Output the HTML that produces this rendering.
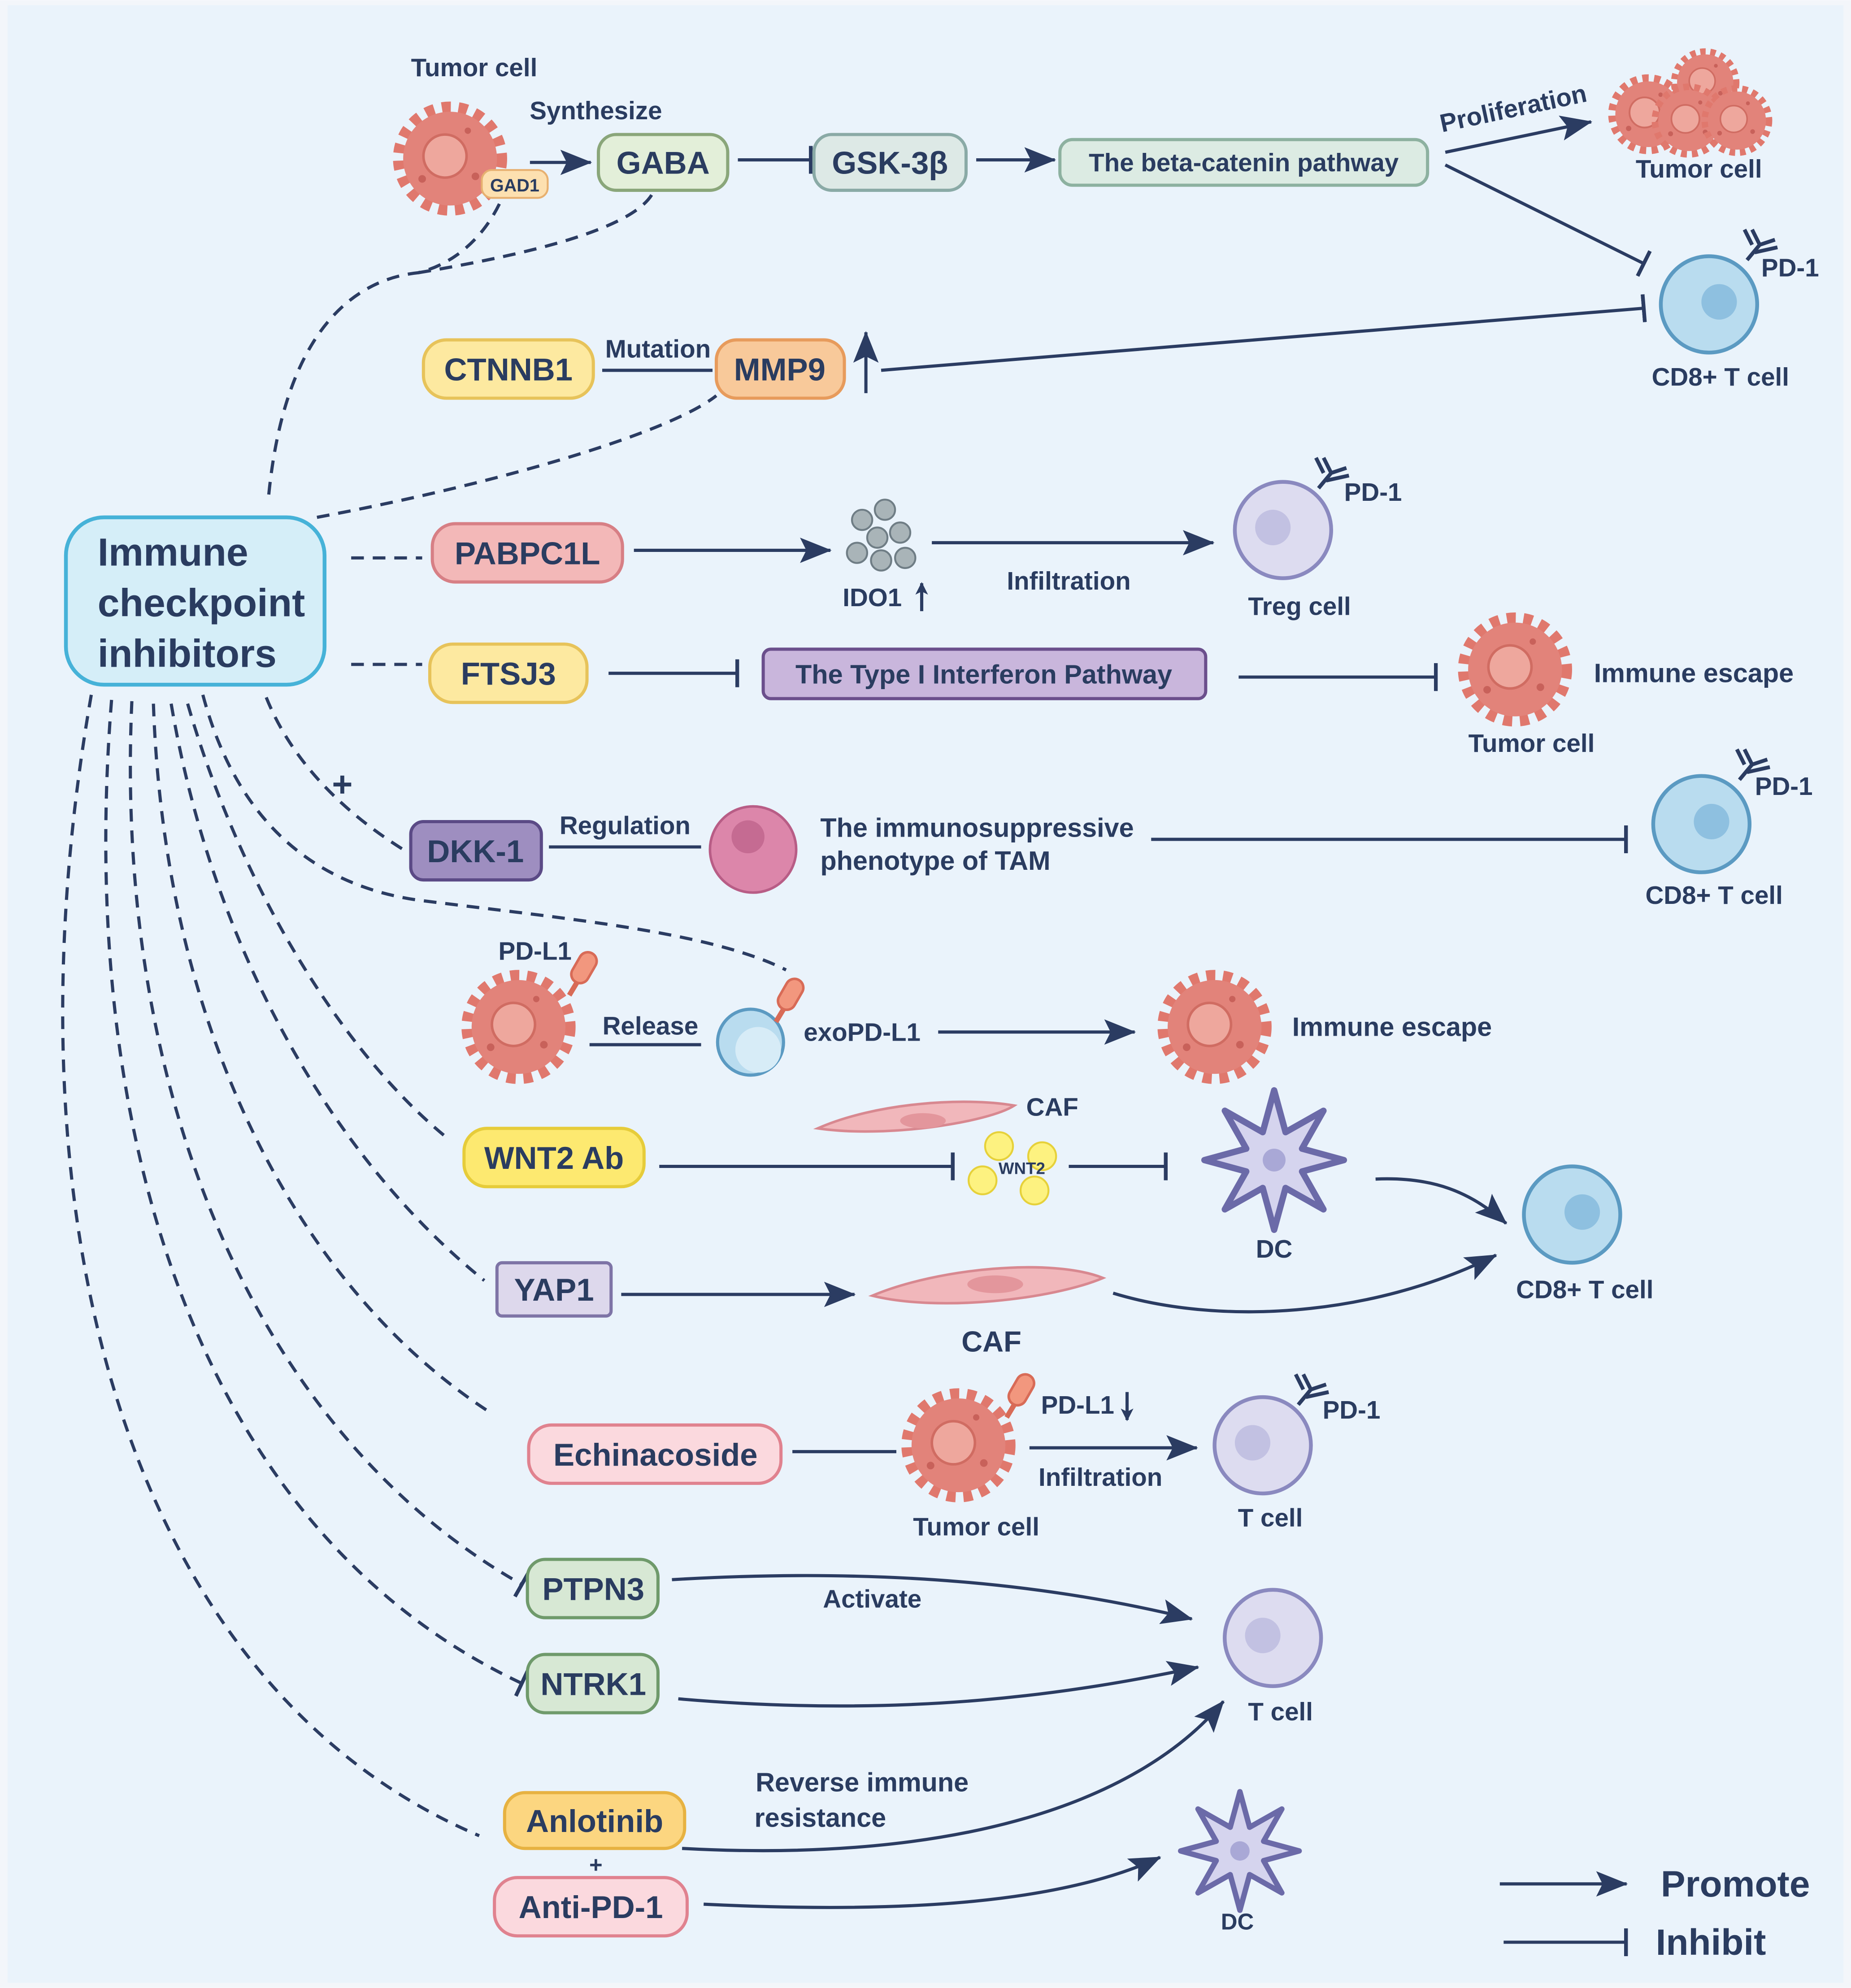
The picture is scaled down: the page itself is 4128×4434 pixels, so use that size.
<!DOCTYPE html>
<html><head><meta charset="utf-8"><style>
html,body{margin:0;padding:0;background:#fff}
svg{display:block}
text{font-family:"Liberation Sans",sans-serif;font-weight:bold;fill:#2a3c60}
</style></head><body>
<svg width="4128" height="4434" viewBox="0 0 1460 1568" xmlns="http://www.w3.org/2000/svg">
<defs>
<marker id="ar" markerWidth="10" markerHeight="10" refX="9" refY="5" orient="auto" markerUnits="userSpaceOnUse" viewBox="0 0 10 10"><path d="M0,0 L10,5 L0,10 L2.5,5z" fill="#2b3c62"/></marker>
<marker id="arB" markerWidth="26" markerHeight="20" refX="24" refY="10" orient="auto" markerUnits="userSpaceOnUse"><path d="M0,0 L25,10 L0,20 L5,10z" fill="#2b3c62"/></marker>
<marker id="bar" markerWidth="4" markerHeight="22" refX="2" refY="11" orient="auto" markerUnits="userSpaceOnUse"><rect x="0" y="0" width="3" height="22" fill="#2b3c62"/></marker>
<g id="tum"><circle r="40" fill="none" stroke="#e0786d" stroke-width="10" stroke-dasharray="7 6"/><circle r="37" fill="#e2837a"/><circle r="17" cx="-4" cy="-2" fill="#eea79d" stroke="#d06c62" stroke-width="2"/><circle r="3" cx="20" cy="14" fill="#c8615a"/><circle r="3" cx="-22" cy="16" fill="#c8615a"/><circle r="2.5" cx="14" cy="-22" fill="#c8615a"/></g>
<g id="cd8"><circle r="38" fill="#b9dcef" stroke="#5b9ac2" stroke-width="3"/><circle r="14" cx="8" cy="-2" fill="#8ec0e0"/></g>
<g id="tcl"><circle r="38" fill="#dddcf0" stroke="#8a89bf" stroke-width="3"/><circle r="14" cx="-8" cy="-2" fill="#c2c1e2"/></g>
<g id="ab"><path d="M0,0 L10,-12 M10,-12 L4,-24 M10,-12 L22,-16 M4,-12 L-2,-24 M6,-6 L24,-10" stroke="#2b3c62" stroke-width="3" fill="none"/></g>
<g id="dc"><polygon points="55,0 22,9 38.9,38.9 9,22 0,55 -9,22 -38.9,38.9 -22,9 -55,0 -22,-9 -38.9,-38.9 -9,-22 0,-55 9,-22 38.9,-38.9 22,-9" fill="#d5d4ee" stroke="#6b6aa8" stroke-width="5" stroke-linejoin="round"/><circle r="9" fill="#a9a8d6"/></g>
<g id="rec"><path d="M0,0 l-6,10" stroke="#d86b57" stroke-width="4"/><rect x="-8" y="-26" width="14" height="26" rx="7" fill="#f2977e" stroke="#d86b57" stroke-width="2" transform="rotate(30)"/></g>
</defs>
<rect x="0" y="0" width="1460" height="1568" fill="#f3f6fa"/>
<rect x="6" y="4" width="1448" height="1560" fill="#eaf3fb"/>

<g fill="none" stroke="#2b3c62" stroke-width="2.5">
<g stroke-dasharray="10 7">
<path d="M212,390 C225,260 280,220 330,215 C370,205 395,170 403,135"/>
<path d="M330,215 C420,200 500,180 515,152"/>
<path d="M250,408 C400,380 530,340 565,312"/>
<line x1="277" y1="440" x2="333" y2="440"/>
<line x1="277" y1="524" x2="333" y2="524"/>
<path d="M210,550 C230,600 270,640 318,670"/>
<path d="M160,548 C190,660 260,700 330,710 C450,725 560,735 620,765"/>
<path d="M148,555 C190,700 270,830 352,897"/>
<path d="M135,555 C170,760 270,920 382,1010"/>
<path d="M121,555 C130,820 240,1020 388,1115"/>
<path d="M104,553 C90,860 200,1130 412,1250" marker-end="url(#bar)"/>
<path d="M88,552 C60,900 160,1210 412,1328" marker-end="url(#bar)"/>
<path d="M72,548 C0,960 100,1330 378,1448"/>
</g>
<line x1="418" y1="128" x2="466" y2="128" marker-end="url(#arB)"/>
<line x1="582" y1="126" x2="640" y2="126" marker-end="url(#bar)"/>
<line x1="770" y1="126" x2="832" y2="126" marker-end="url(#arB)"/>
<line x1="1140" y1="120" x2="1255" y2="96" marker-end="url(#arB)"/>
<line x1="1140" y1="130" x2="1297" y2="208" marker-end="url(#bar)"/>
<line x1="475" y1="292" x2="562" y2="292"/>
<line x1="683" y1="310" x2="683" y2="262" marker-end="url(#arB)"/>
<line x1="695" y1="292" x2="1297" y2="243" marker-end="url(#bar)"/>
<line x1="500" y1="434" x2="655" y2="434" marker-end="url(#arB)"/>
<line x1="727" y1="482" x2="727" y2="460" marker-end="url(#ar)"/>
<line x1="735" y1="428" x2="957" y2="428" marker-end="url(#arB)"/>
<line x1="480" y1="531" x2="582" y2="531" marker-end="url(#bar)"/>
<line x1="977" y1="534" x2="1133" y2="534" marker-end="url(#bar)"/>
<line x1="433" y1="668" x2="553" y2="668"/>
<line x1="908" y1="662" x2="1283" y2="662" marker-end="url(#bar)"/>
<line x1="465" y1="824" x2="553" y2="824"/>
<line x1="740" y1="814" x2="895" y2="814" marker-end="url(#arB)"/>
<line x1="520" y1="920" x2="752" y2="920" marker-end="url(#bar)"/>
<line x1="843" y1="920" x2="920" y2="920" marker-end="url(#bar)"/>
<path d="M1085,930 C1130,928 1160,940 1188,965" marker-end="url(#arB)"/>
<line x1="490" y1="1021" x2="674" y2="1021" marker-end="url(#arB)"/>
<path d="M878,1020 C960,1045 1080,1040 1180,990" marker-end="url(#arB)"/>
<line x1="625" y1="1145" x2="707" y2="1145"/>
<line x1="889" y1="1098" x2="889" y2="1120" marker-end="url(#ar)"/>
<line x1="812" y1="1142" x2="944" y2="1142" marker-end="url(#arB)"/>
<path d="M530,1246 C700,1236 830,1250 940,1277" marker-end="url(#arB)"/>
<path d="M535,1340 C720,1356 850,1335 945,1315" marker-end="url(#arB)"/>
<path d="M538,1458 C760,1470 900,1420 965,1342" marker-end="url(#arB)"/>
<path d="M555,1502 C720,1510 840,1500 915,1465" marker-end="url(#arB)"/>
<line x1="1183" y1="1486" x2="1283" y2="1486" marker-end="url(#arB)"/>
<line x1="1186" y1="1532" x2="1283" y2="1532" marker-end="url(#bar)"/>
</g>

<g stroke-width="2.5">
<rect x="472" y="106" width="102" height="44" rx="14" fill="#e3efd9" stroke="#8aa67a"/>
<rect x="642" y="106" width="120" height="44" rx="14" fill="#dde9e6" stroke="#8aaaa6"/>
<rect x="836" y="110" width="290" height="36" rx="10" fill="#dcebe3" stroke="#8db1a0"/>
<rect x="334" y="268" width="134" height="46" rx="18" fill="#fde9a0" stroke="#e7c35a"/>
<rect x="565" y="268" width="101" height="46" rx="16" fill="#f8c99a" stroke="#e79b5c"/>
<rect x="52" y="408" width="204" height="132" rx="30" fill="#d5eef8" stroke="#46b2d8" stroke-width="3"/>
<rect x="341" y="413" width="150" height="46" rx="18" fill="#f3b8b8" stroke="#d77f85"/>
<rect x="339" y="508" width="124" height="46" rx="18" fill="#fde9a0" stroke="#e7c35a"/>
<rect x="602" y="512" width="349" height="39" rx="6" fill="#c9b6dc" stroke="#6b4f8c"/>
<rect x="324" y="648" width="103" height="46" rx="10" fill="#9e8ec0" stroke="#5b4a86"/>
<rect x="366" y="890" width="142" height="46" rx="18" fill="#fde970" stroke="#e6cc3a"/>
<rect x="392" y="996" width="90" height="42" rx="4" fill="#ddd8ec" stroke="#7e74a6"/>
<rect x="417" y="1124" width="199" height="46" rx="18" fill="#fbd9de" stroke="#e0828f"/>
<rect x="416" y="1230" width="103" height="46" rx="14" fill="#d7e8d4" stroke="#6f9a6b"/>
<rect x="416" y="1305" width="103" height="46" rx="14" fill="#d7e8d4" stroke="#6f9a6b"/>
<rect x="398" y="1414" width="142" height="44" rx="16" fill="#fcd680" stroke="#e7b241"/>
<rect x="390" y="1481" width="152" height="46" rx="18" fill="#fbd9de" stroke="#e0828f"/>
</g>

<use href="#tum" x="355" y="125"/>
<rect x="380" y="134" width="52" height="22" rx="8" fill="#fde0b0" stroke="#e7b070" stroke-width="1.5"/>
<use href="#tum" transform="translate(1300,90) scale(0.7)"/>
<use href="#tum" transform="translate(1345,65) scale(0.6)"/>
<use href="#tum" transform="translate(1332,95) scale(0.65)"/>
<use href="#tum" transform="translate(1370,95) scale(0.62)"/>
<use href="#cd8" x="1348" y="240"/><use href="#ab" x="1378" y="205"/>
<g fill="#a9b4b8" stroke="#6f7d85" stroke-width="1.5"><circle cx="680" cy="410" r="8"/><circle cx="698" cy="402" r="8"/><circle cx="710" cy="420" r="8"/><circle cx="692" cy="424" r="8"/><circle cx="676" cy="436" r="8"/><circle cx="695" cy="442" r="8"/><circle cx="714" cy="440" r="8"/></g>
<use href="#tcl" x="1012" y="418"/><use href="#ab" x="1040" y="385"/>
<use href="#tum" x="1195" y="528"/>
<circle cx="594" cy="670" r="34" fill="#dc86aa" stroke="#b85d86" stroke-width="2"/><circle cx="590" cy="660" r="13" fill="#c56b92"/>
<use href="#cd8" x="1342" y="650"/><use href="#ab" x="1372" y="615"/>
<use href="#tum" x="409" y="810"/><use href="#rec" x="455" y="775"/>
<circle cx="592" cy="822" r="26" fill="#b9dcef" stroke="#5b9ac2" stroke-width="2.5"/><circle cx="598" cy="828" r="18" fill="#d7ecf7"/>
<use href="#rec" x="618" y="796"/>
<use href="#tum" x="958" y="810"/>
<path d="M645,890 C690,870 760,865 800,872 C780,885 700,898 645,890z" fill="#f1b7bb" stroke="#d88890" stroke-width="2"/><ellipse cx="728" cy="884" rx="18" ry="6" fill="#e3969c"/>
<g fill="#fdf280" stroke="#e6d13a" stroke-width="1.5"><circle cx="788" cy="904" r="11"/><circle cx="822" cy="912" r="11"/><circle cx="775" cy="931" r="11"/><circle cx="816" cy="939" r="11"/></g>
<use href="#dc" x="1005" y="915"/>
<use href="#cd8" x="1240" y="958"/>
<path d="M688,1022 C740,1000 830,992 870,1008 C830,1025 740,1035 688,1022z" fill="#f1b7bb" stroke="#d88890" stroke-width="2"/><ellipse cx="785" cy="1013" rx="22" ry="7" fill="#e3969c"/>
<use href="#tum" x="756" y="1140"/><use href="#rec" x="800" y="1108"/>
<use href="#tcl" x="996" y="1140"/><use href="#ab" x="1024" y="1108"/>
<use href="#tcl" x="1004" y="1292"/>
<use href="#dc" transform="translate(978,1460) scale(0.85)"/>

<g font-size="20">
<text x="374" y="60" text-anchor="middle">Tumor cell</text>
<text x="470" y="94" text-anchor="middle">Synthesize</text>
<text x="406" y="151" text-anchor="middle" font-size="14">GAD1</text>
<text x="1340" y="140" text-anchor="middle">Tumor cell</text>
<text x="1195" y="92" text-anchor="middle" transform="rotate(-12 1195 92)">Proliferation</text>
<text x="1412" y="218" text-anchor="middle">PD-1</text>
<text x="1357" y="304" text-anchor="middle">CD8+ T cell</text>
<text x="519" y="282" text-anchor="middle">Mutation</text>
<text x="1083" y="395" text-anchor="middle">PD-1</text>
<text x="688" y="478" text-anchor="middle">IDO1</text>
<text x="843" y="465" text-anchor="middle">Infiltration</text>
<text x="1025" y="485" text-anchor="middle">Treg cell</text>
<text x="1336" y="538" text-anchor="middle" font-size="21">Immune escape</text>
<text x="1208" y="593" text-anchor="middle">Tumor cell</text>
<text x="493" y="658" text-anchor="middle">Regulation</text>
<text x="647" y="660" font-size="21">The immunosuppressive</text>
<text x="647" y="686" font-size="21">phenotype of TAM</text>
<text x="1407" y="627" text-anchor="middle">PD-1</text>
<text x="1352" y="713" text-anchor="middle">CD8+ T cell</text>
<text x="422" y="757" text-anchor="middle">PD-L1</text>
<text x="513" y="816" text-anchor="middle">Release</text>
<text x="680" y="821" text-anchor="middle">exoPD-L1</text>
<text x="1098" y="817" text-anchor="middle" font-size="21">Immune escape</text>
<text x="830" y="880" text-anchor="middle">CAF</text>
<text x="806" y="926" text-anchor="middle" font-size="13">WNT2</text>
<text x="1005" y="992" text-anchor="middle">DC</text>
<text x="1250" y="1024" text-anchor="middle">CD8+ T cell</text>
<text x="782" y="1066" text-anchor="middle" font-size="23">CAF</text>
<text x="850" y="1115" text-anchor="middle">PD-L1</text>
<text x="868" y="1172" text-anchor="middle">Infiltration</text>
<text x="1066" y="1119" text-anchor="middle">PD-1</text>
<text x="1002" y="1204" text-anchor="middle">T cell</text>
<text x="770" y="1211" text-anchor="middle">Tumor cell</text>
<text x="688" y="1268" text-anchor="middle">Activate</text>
<text x="1010" y="1357" text-anchor="middle">T cell</text>
<text x="680" y="1413" text-anchor="middle" font-size="21">Reverse immune</text>
<text x="647" y="1441" text-anchor="middle" font-size="21">resistance</text>
<text x="470" y="1477" text-anchor="middle" font-size="18">+</text>
<text x="976" y="1522" text-anchor="middle" font-size="18">DC</text>
</g>
<text x="270" y="628" text-anchor="middle" font-size="28">+</text>
<g font-size="25" text-anchor="middle">
<text x="523" y="137">GABA</text>
<text x="702" y="137">GSK-3β</text>
<text x="981" y="135" font-size="20">The beta-catenin pathway</text>
<text x="401" y="300">CTNNB1</text>
<text x="615" y="300">MMP9</text>
<text x="416" y="445">PABPC1L</text>
<text x="401" y="540">FTSJ3</text>
<text x="776" y="539" font-size="21">The Type I Interferon Pathway</text>
<text x="375" y="680">DKK-1</text>
<text x="437" y="922">WNT2 Ab</text>
<text x="437" y="1026">YAP1</text>
<text x="517" y="1156">Echinacoside</text>
<text x="468" y="1262">PTPN3</text>
<text x="468" y="1337">NTRK1</text>
<text x="469" y="1445">Anlotinib</text>
<text x="466" y="1513">Anti-PD-1</text>
</g>
<g font-size="31">
<text x="77" y="446">Immune</text>
<text x="77" y="486">checkpoint</text>
<text x="77" y="526">inhibitors</text>
<text x="1310" y="1496" font-size="29">Promote</text>
<text x="1306" y="1542" font-size="29">Inhibit</text>
</g>
</svg>
</body></html>
